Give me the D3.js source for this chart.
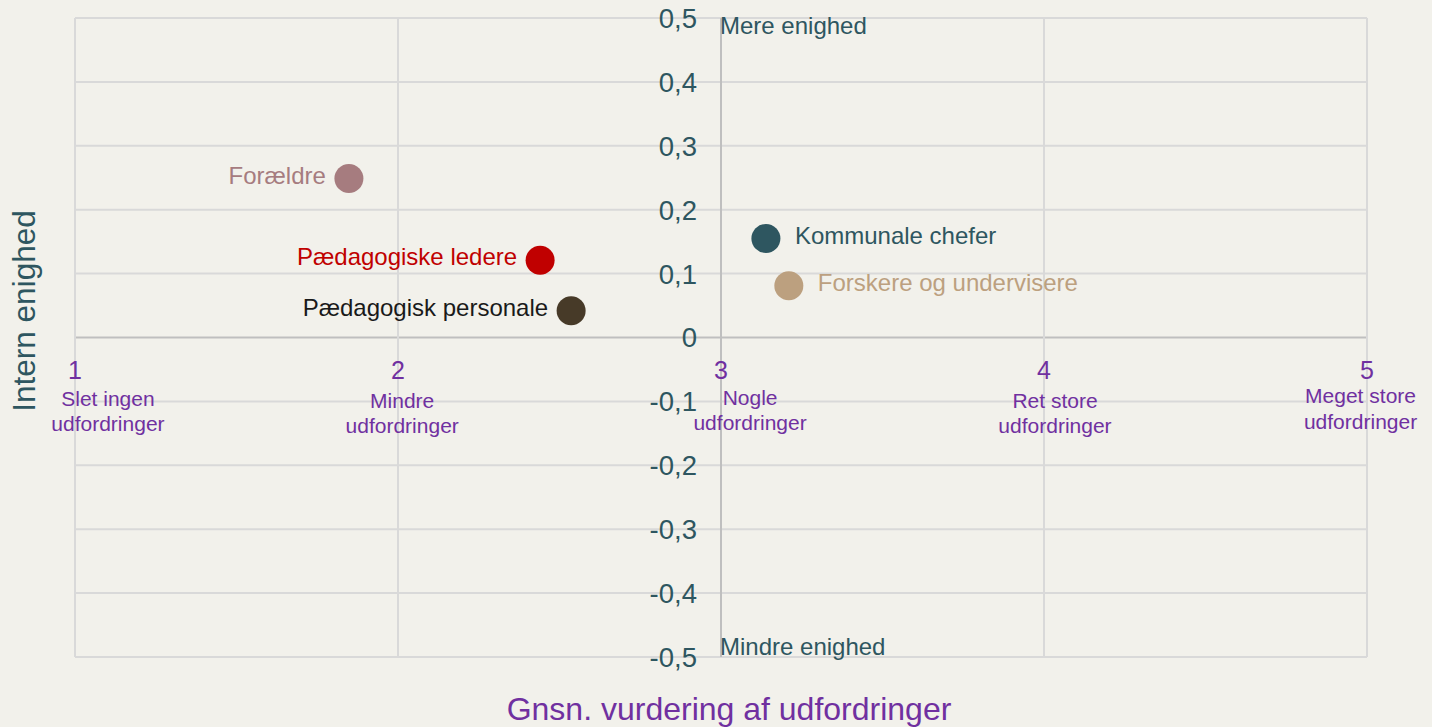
<!DOCTYPE html>
<html><head><meta charset="utf-8">
<script src="https://cdn.jsdelivr.net/npm/d3@7"></script>
<style>body{margin:0;background:#f2f1eb;}svg{display:block;font-family:"Liberation Sans",Arial,sans-serif;}</style>
</head><body><svg id="c" width="1432" height="727"></svg>
<script>
const groups = ["Forældre","Pædagogiske ledere","Pædagogisk personale","Kommunale chefer","Forskere og undervisere"];
const xValues = [1.848, 2.44, 2.536, 3.139, 3.21];
const yValues = [0.249, 0.121, 0.042, 0.155, 0.081];
const colors = ["#a67c7f","#c00000","#473a28","#2e5660","#bca07f"];
const labelColors = ["#a67c7f","#c00000","#1a1a1a","#2e5660","#bca07f"];
const labelSide = ["left","left","left","right","right"];
const xTicks = [1,2,3,4,5];
const yTicks = [-0.5,-0.4,-0.3,-0.2,-0.1,0,0.1,0.2,0.3,0.4,0.5];
const xCategoryLabels = [["Slet ingen","udfordringer"],["Mindre","udfordringer"],["Nogle","udfordringer"],["Ret store","udfordringer"],["Meget store","udfordringer"]];
const xCategoryAnchor = [1.102, 2.013, 3.09, 4.034, 4.98];
const xCategoryBaseline = [-0.107, -0.11, -0.105, -0.11, -0.103];

const svg = d3.select("#c");
const x = d3.scaleLinear().domain([1,5]).range([75,1367]);
const y = d3.scaleLinear().domain([-0.5,0.5]).range([657,18]);
const fmt = d => Math.abs(d) < 1e-9 ? "0" : d.toFixed(1).replace(".",",");

// gridlines
svg.append("g").selectAll("line").data(yTicks).join("line")
  .attr("x1",x(1)).attr("x2",x(5)).attr("y1",d=>y(d)).attr("y2",d=>y(d))
  .attr("stroke",d=>d===0?"#bfbfbf":"#d9d9d9").attr("stroke-width",2);
svg.append("g").selectAll("line").data(xTicks).join("line")
  .attr("x1",d=>x(d)).attr("x2",d=>x(d)).attr("y1",y(0.5)).attr("y2",y(-0.5))
  .attr("stroke",d=>d===3?"#bfbfbf":"#d9d9d9").attr("stroke-width",2);

// y tick labels
svg.append("g").selectAll("text").data(yTicks).join("text")
  .attr("x",697).attr("y",d=>y(d)).attr("dy","0.36em").attr("text-anchor","end")
  .attr("font-size",27.5).attr("fill","#2e5660").text(d=>fmt(d));

// x tick labels
svg.append("g").selectAll("text").data(xTicks).join("text")
  .attr("x",d=>x(d)).attr("y",y(0)+41).attr("text-anchor","middle")
  .attr("font-size",25).attr("fill","#7030a0").text(d=>d);

// category labels
const cg = svg.append("g");
xCategoryLabels.forEach((lines,i)=>{
  lines.forEach((t,j)=>{
    cg.append("text").attr("x",x(xCategoryAnchor[i])).attr("y",y(xCategoryBaseline[i])+j*25.5)
      .attr("text-anchor","middle").attr("font-size",21).attr("fill","#7030a0").text(t);
  });
});

// quadrant labels
svg.append("text").attr("x",x(3)-1).attr("y",y(0.5)+16).attr("font-size",24).attr("fill","#2e5660").text("Mere enighed");
svg.append("text").attr("x",x(3)-1).attr("y",y(-0.5)-2).attr("font-size",24).attr("fill","#2e5660").text("Mindre enighed");

// points
const data = groups.map((g,i)=>({g,x:xValues[i],y:yValues[i],c:colors[i],lc:labelColors[i],side:labelSide[i]}));
svg.append("g").selectAll("circle").data(data).join("circle")
  .attr("cx",d=>x(d.x)).attr("cy",d=>y(d.y)).attr("r",14.5).attr("fill",d=>d.c);
svg.append("g").selectAll("text").data(data).join("text")
  .attr("x",d=>x(d.x)+(d.side==="left"?-23:29))
  .attr("y",d=>y(d.y)).attr("dy","0.22em")
  .attr("text-anchor",d=>d.side==="left"?"end":"start")
  .attr("font-size",24).attr("fill",d=>d.lc).text(d=>d.g);

// axis titles
svg.append("text").attr("transform","translate(35,311) rotate(-90)").attr("text-anchor","middle")
  .attr("font-size",31.5).attr("fill","#2e5660").text("Intern enighed");
svg.append("text").attr("x",729).attr("y",720).attr("text-anchor","middle")
  .attr("font-size",32).attr("fill","#7030a0").text("Gnsn. vurdering af udfordringer");
</script></body></html>
